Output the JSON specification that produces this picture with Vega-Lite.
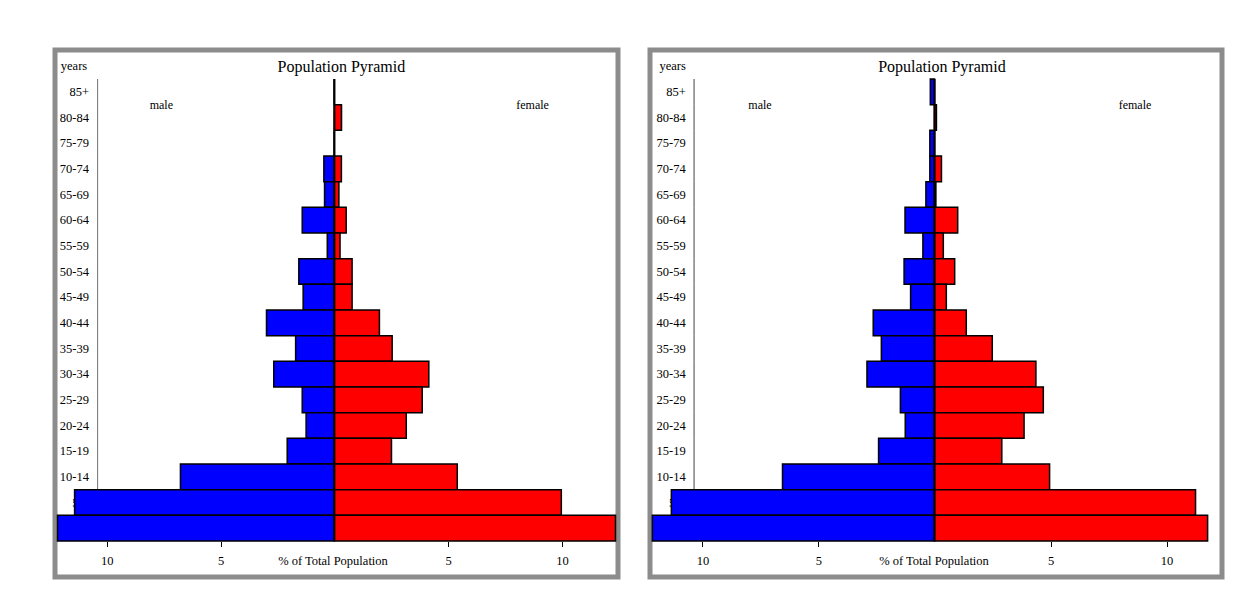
{
  "$schema": "https://vega.github.io/schema/vega-lite/v6.json",
  "background": "white",
  "padding": {"left": 52, "top": 47, "right": 0, "bottom": 0},
  "spacing": 26,
  "config": {
    "font": "Liberation Serif",
    "view": {"stroke": "#8c8c8c", "strokeWidth": 5},
    "axis": {"labelFont": "Liberation Serif", "titleFont": "Liberation Serif", "labelColor": "black", "titleColor": "black", "grid": false, "titleFontWeight": "normal", "labelFontSize": 12.5, "titleFontSize": 12.5}
  },
  "datasets": {
    "left": [
      {"age": "85+", "sex": "male", "value": 0}, {"age": "85+", "sex": "female", "value": 0},
      {"age": "80-84", "sex": "male", "value": 0}, {"age": "80-84", "sex": "female", "value": 0.31},
      {"age": "75-79", "sex": "male", "value": 0}, {"age": "75-79", "sex": "female", "value": 0},
      {"age": "70-74", "sex": "male", "value": -0.46}, {"age": "70-74", "sex": "female", "value": 0.31},
      {"age": "65-69", "sex": "male", "value": -0.43}, {"age": "65-69", "sex": "female", "value": 0.2},
      {"age": "60-64", "sex": "male", "value": -1.41}, {"age": "60-64", "sex": "female", "value": 0.52},
      {"age": "55-59", "sex": "male", "value": -0.31}, {"age": "55-59", "sex": "female", "value": 0.25},
      {"age": "50-54", "sex": "male", "value": -1.56}, {"age": "50-54", "sex": "female", "value": 0.78},
      {"age": "45-49", "sex": "male", "value": -1.37}, {"age": "45-49", "sex": "female", "value": 0.78},
      {"age": "40-44", "sex": "male", "value": -2.98}, {"age": "40-44", "sex": "female", "value": 1.98},
      {"age": "35-39", "sex": "male", "value": -1.7}, {"age": "35-39", "sex": "female", "value": 2.54},
      {"age": "30-34", "sex": "male", "value": -2.66}, {"age": "30-34", "sex": "female", "value": 4.15},
      {"age": "25-29", "sex": "male", "value": -1.41}, {"age": "25-29", "sex": "female", "value": 3.86},
      {"age": "20-24", "sex": "male", "value": -1.24}, {"age": "20-24", "sex": "female", "value": 3.16},
      {"age": "15-19", "sex": "male", "value": -2.07}, {"age": "15-19", "sex": "female", "value": 2.51},
      {"age": "10-14", "sex": "male", "value": -6.76}, {"age": "10-14", "sex": "female", "value": 5.4},
      {"age": "5-9", "sex": "male", "value": -11.41}, {"age": "5-9", "sex": "female", "value": 9.97},
      {"age": "0-4", "sex": "male", "value": -12.16}, {"age": "0-4", "sex": "female", "value": 12.35}
    ],
    "right": [
      {"age": "85+", "sex": "male", "value": -0.18}, {"age": "85+", "sex": "female", "value": 0},
      {"age": "80-84", "sex": "male", "value": 0}, {"age": "80-84", "sex": "female", "value": 0.08},
      {"age": "75-79", "sex": "male", "value": -0.2}, {"age": "75-79", "sex": "female", "value": 0},
      {"age": "70-74", "sex": "male", "value": -0.2}, {"age": "70-74", "sex": "female", "value": 0.3},
      {"age": "65-69", "sex": "male", "value": -0.37}, {"age": "65-69", "sex": "female", "value": 0.06},
      {"age": "60-64", "sex": "male", "value": -1.27}, {"age": "60-64", "sex": "female", "value": 1.0},
      {"age": "55-59", "sex": "male", "value": -0.5}, {"age": "55-59", "sex": "female", "value": 0.38},
      {"age": "50-54", "sex": "male", "value": -1.31}, {"age": "50-54", "sex": "female", "value": 0.87},
      {"age": "45-49", "sex": "male", "value": -1.03}, {"age": "45-49", "sex": "female", "value": 0.51},
      {"age": "40-44", "sex": "male", "value": -2.64}, {"age": "40-44", "sex": "female", "value": 1.37},
      {"age": "35-39", "sex": "male", "value": -2.29}, {"age": "35-39", "sex": "female", "value": 2.49},
      {"age": "30-34", "sex": "male", "value": -2.91}, {"age": "30-34", "sex": "female", "value": 4.37},
      {"age": "25-29", "sex": "male", "value": -1.47}, {"age": "25-29", "sex": "female", "value": 4.69},
      {"age": "20-24", "sex": "male", "value": -1.26}, {"age": "20-24", "sex": "female", "value": 3.86},
      {"age": "15-19", "sex": "male", "value": -2.41}, {"age": "15-19", "sex": "female", "value": 2.9},
      {"age": "10-14", "sex": "male", "value": -6.55}, {"age": "10-14", "sex": "female", "value": 4.96},
      {"age": "5-9", "sex": "male", "value": -11.34}, {"age": "5-9", "sex": "female", "value": 11.25},
      {"age": "0-4", "sex": "male", "value": -12.16}, {"age": "0-4", "sex": "female", "value": 11.77}
    ]
  },
  "hconcat": [
    {
      "width": 563,
      "height": 527,
      "data": {"name": "left"},
      "layer": [
        {
          "transform": [{"filter": "datum.sex === 'male'"}],
          "mark": {"type": "bar", "stroke": "#808080", "strokeWidth": 1, "fill": "#808080"},
          "encoding": {
            "y": {"field": "age", "type": "nominal", "sort": ["85+","80-84","75-79","70-74","65-69","60-64","55-59","50-54","45-49","40-44","35-39","30-34","25-29","20-24","15-19","10-14","5-9","0-4"]},
            "x": {"datum": -10.4, "type": "quantitative"},
            "x2": {"datum": -10.4}
          }
        },
        {
          "mark": {"type": "bar", "stroke": "black", "strokeWidth": 1.5, "clip": true},
          "encoding": {
            "y": {
              "field": "age", "type": "nominal",
              "sort": ["85+","80-84","75-79","70-74","65-69","60-64","55-59","50-54","45-49","40-44","35-39","30-34","25-29","20-24","15-19","10-14","5-9","0-4"],
              "scale": {"paddingInner": 0, "paddingOuter": 0, "range": [29, 491]},
              "axis": {"title": "years", "titleAngle": 0, "titleX": -24, "titleY": 19, "titleAlign": "center", "titleBaseline": "alphabetic", "ticks": false, "domain": false, "labelPadding": 9, "offset": -42.5}
            },
            "x": {
              "field": "value", "type": "quantitative",
              "scale": {"domain": [-12.27, 12.46], "nice": false, "zero": false},
              "axis": {"values": [-10, -5, 5, 10], "labelExpr": "abs(datum.value)", "title": "% of Total Population", "titleX": 277.5, "titleY": 13, "titleBaseline": "top", "offset": -35.5, "domain": false, "tickSize": 5, "tickColor": "black", "labelPadding": 8, "labelFlush": false}
            },
            "color": {"field": "sex", "type": "nominal", "scale": {"domain": ["male", "female"], "range": ["#0000ff", "#ff0000"]}, "legend": null}
          }
        },
        {
          "transform": [{"filter": "datum.sex === 'male'"}],
          "mark": {"type": "bar", "stroke": "black", "strokeWidth": 2, "fill": "black"},
          "encoding": {
            "y": {"field": "age", "type": "nominal", "sort": ["85+","80-84","75-79","70-74","65-69","60-64","55-59","50-54","45-49","40-44","35-39","30-34","25-29","20-24","15-19","10-14","5-9","0-4"]},
            "x": {"datum": 0, "type": "quantitative"},
            "x2": {"datum": 0}
          }
        },
        {
          "data": {"values": [{"label": "Population Pyramid"}]},
          "mark": {"type": "text", "fontSize": 16, "baseline": "alphabetic", "align": "center", "font": "Liberation Serif", "dy": -7},
          "encoding": {
            "text": {"field": "label"},
            "x": {"datum": 0.31, "type": "quantitative"},
            "y": {"datum": "85+", "type": "nominal", "bandPosition": 0}
          }
        },
        {
          "data": {"values": [{"label": "male"}]},
          "mark": {"type": "text", "fontSize": 12, "baseline": "middle", "align": "center", "font": "Liberation Serif"},
          "encoding": {
            "text": {"field": "label"},
            "x": {"datum": -7.6, "type": "quantitative"},
            "y": {"datum": "80-84", "type": "nominal", "bandPosition": 0}
          }
        },
        {
          "data": {"values": [{"label": "female"}]},
          "mark": {"type": "text", "fontSize": 12, "baseline": "middle", "align": "center", "font": "Liberation Serif"},
          "encoding": {
            "text": {"field": "label"},
            "x": {"datum": 8.71, "type": "quantitative"},
            "y": {"datum": "80-84", "type": "nominal", "bandPosition": 0}
          }
        }
      ]
    },
    {
      "width": 572,
      "height": 527,
      "data": {"name": "right"},
      "layer": [
        {
          "transform": [{"filter": "datum.sex === 'male'"}],
          "mark": {"type": "bar", "stroke": "#808080", "strokeWidth": 1, "fill": "#808080"},
          "encoding": {
            "y": {"field": "age", "type": "nominal", "sort": ["85+","80-84","75-79","70-74","65-69","60-64","55-59","50-54","45-49","40-44","35-39","30-34","25-29","20-24","15-19","10-14","5-9","0-4"]},
            "x": {"datum": -10.36, "type": "quantitative"},
            "x2": {"datum": -10.36}
          }
        },
        {
          "mark": {"type": "bar", "stroke": "black", "strokeWidth": 1.5, "clip": true},
          "encoding": {
            "y": {
              "field": "age", "type": "nominal",
              "sort": ["85+","80-84","75-79","70-74","65-69","60-64","55-59","50-54","45-49","40-44","35-39","30-34","25-29","20-24","15-19","10-14","5-9","0-4"],
              "scale": {"paddingInner": 0, "paddingOuter": 0, "range": [29, 491]},
              "axis": {"title": "years", "titleAngle": 0, "titleX": -22, "titleY": 19, "titleAlign": "center", "titleBaseline": "alphabetic", "ticks": false, "domain": false, "labelPadding": 9, "offset": -44.2}
            },
            "x": {
              "field": "value", "type": "quantitative",
              "scale": {"domain": [-12.26, 12.39], "nice": false, "zero": false},
              "axis": {"values": [-10, -5, 5, 10], "labelExpr": "abs(datum.value)", "title": "% of Total Population", "titleX": 283.5, "titleY": 13, "titleBaseline": "top", "offset": -35.5, "domain": false, "tickSize": 5, "tickColor": "black", "labelPadding": 8, "labelFlush": false}
            },
            "color": {"field": "sex", "type": "nominal", "scale": {"domain": ["male", "female"], "range": ["#0000ff", "#ff0000"]}, "legend": null}
          }
        },
        {
          "transform": [{"filter": "datum.sex === 'male'"}],
          "mark": {"type": "bar", "stroke": "black", "strokeWidth": 2, "fill": "black"},
          "encoding": {
            "y": {"field": "age", "type": "nominal", "sort": ["85+","80-84","75-79","70-74","65-69","60-64","55-59","50-54","45-49","40-44","35-39","30-34","25-29","20-24","15-19","10-14","5-9","0-4"]},
            "x": {"datum": 0, "type": "quantitative"},
            "x2": {"datum": 0}
          }
        },
        {
          "data": {"values": [{"label": "Population Pyramid"}]},
          "mark": {"type": "text", "fontSize": 16, "baseline": "alphabetic", "align": "center", "font": "Liberation Serif", "dy": -7},
          "encoding": {
            "text": {"field": "label"},
            "x": {"datum": 0.32, "type": "quantitative"},
            "y": {"datum": "85+", "type": "nominal", "bandPosition": 0}
          }
        },
        {
          "data": {"values": [{"label": "male"}]},
          "mark": {"type": "text", "fontSize": 12, "baseline": "middle", "align": "center", "font": "Liberation Serif"},
          "encoding": {
            "text": {"field": "label"},
            "x": {"datum": -7.52, "type": "quantitative"},
            "y": {"datum": "80-84", "type": "nominal", "bandPosition": 0}
          }
        },
        {
          "data": {"values": [{"label": "female"}]},
          "mark": {"type": "text", "fontSize": 12, "baseline": "middle", "align": "center", "font": "Liberation Serif"},
          "encoding": {
            "text": {"field": "label"},
            "x": {"datum": 8.64, "type": "quantitative"},
            "y": {"datum": "80-84", "type": "nominal", "bandPosition": 0}
          }
        }
      ]
    }
  ]
}
